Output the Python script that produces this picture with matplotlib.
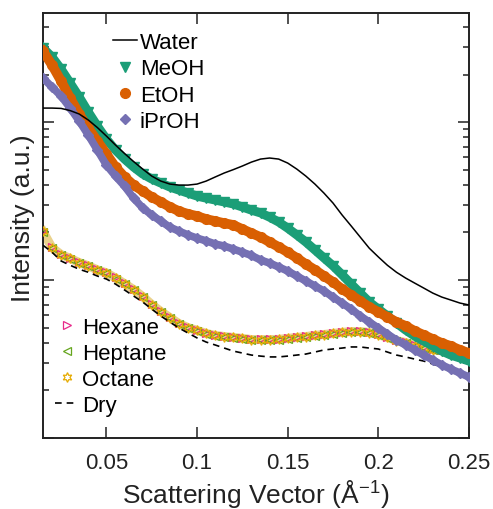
import matplotlib
matplotlib.use('Agg')
import matplotlib.pyplot as plt
from matplotlib.ticker import LogLocator, NullFormatter, NullLocator, FixedLocator

plt.rcParams['font.family'] = ['Liberation Sans', 'DejaVu Sans']
plt.rcParams['mathtext.default'] = 'regular'

# scattering vector (1/A)
q = [0.015, 0.020, 0.025, 0.030, 0.035, 0.040, 0.045, 0.050, 0.055, 0.060,
     0.065, 0.070, 0.075, 0.080, 0.085, 0.090, 0.095, 0.100, 0.105, 0.110,
     0.115, 0.120, 0.125, 0.130, 0.135, 0.140, 0.145, 0.150, 0.155, 0.160,
     0.165, 0.170, 0.175, 0.180, 0.185, 0.190, 0.195, 0.200, 0.205, 0.210,
     0.215, 0.220, 0.225, 0.230, 0.235, 0.240, 0.245, 0.250]

water = [122.6, 122.6, 122.0, 118.2, 112.4, 103.0, 92.3, 81.5, 71.5, 63.2,
         56.2, 50.4, 45.5, 42.3, 40.5, 39.9, 39.9, 40.5, 42.3, 44.9,
         47.6, 50.0, 52.7, 55.8, 58.3, 59.2, 58.3, 55.0, 50.4, 45.5,
         40.5, 35.5, 30.7, 25.8, 22.0, 18.7, 15.9, 14.0, 12.4, 11.2,
         10.3, 9.57, 8.90, 8.27, 7.80, 7.47, 7.15, 6.95]

meoh = [294, 258, 216, 176.5, 143.9, 115.7, 94.3, 78.0, 66.5, 58.3,
        51.9, 46.9, 43.6, 41.1, 38.8, 37.1, 35.5, 34.0, 33.0, 32.1,
        31.2, 30.3, 29.0, 27.7, 26.6, 25.0, 23.3, 21.3, 19.3, 17.4,
        15.5, 13.8, 12.3, 10.8, 9.43, 8.27, 7.26, 6.55, 5.92, 5.34,
        4.83, 4.42, 4.11, 3.82, 3.55, 3.35, 3.21, 3.07]

etoh = [281, 229.5, 181.7, 141.9, 112.4, 91.6, 75.8, 62.7, 51.9, 44.9,
        39.9, 36.6, 33.5, 31.2, 29.0, 27.3, 26.2, 25.4, 24.3, 23.6,
        22.9, 22.3, 21.0, 19.8, 18.7, 17.4, 16.2, 15.0, 13.8, 12.6,
        11.6, 10.6, 9.71, 8.77, 8.04, 7.36, 6.75, 6.27, 5.83, 5.42,
        5.12, 4.76, 4.49, 4.23, 3.99, 3.82, 3.61, 3.45]

iproh = [189.8, 166.5, 146.1, 122.6, 101.5, 82.7, 66.5, 53.4, 45.5, 39.3,
         33.0, 28.6, 25.8, 23.6, 21.6, 20.4, 19.3, 18.4, 17.7, 16.9,
         16.4, 15.7, 15.0, 14.3, 13.4, 12.8, 12.1, 11.4, 10.6, 9.86,
         9.16, 8.52, 7.80, 7.15, 6.55, 5.92, 5.42, 4.97, 4.55, 4.17,
         3.88, 3.61, 3.35, 3.12, 2.90, 2.73, 2.58, 2.43]

hexane = [20.4, 16.2, 14.6, 13.8, 13.0, 12.4, 11.7, 11.2, 10.4, 9.57,
          8.77, 7.92, 7.05, 6.37, 5.83, 5.34, 5.04, 4.83, 4.62, 4.49,
          4.42, 4.36, 4.30, 4.23, 4.23, 4.23, 4.23, 4.30, 4.36, 4.42,
          4.49, 4.55, 4.62, 4.69, 4.76, 4.76, 4.69, 4.55, 4.36, 4.17,
          4.05, 3.88, 3.77, 3.66, 3.61, 3.55, 3.50, 3.45]

heptane = [20.1, 15.9, 14.4, 13.6, 12.8, 12.2, 11.5, 11.0, 10.2, 9.40,
           8.62, 7.80, 6.95, 6.28, 5.75, 5.27, 4.97, 4.76, 4.56, 4.43,
           4.36, 4.30, 4.24, 4.17, 4.17, 4.17, 4.18, 4.24, 4.30, 4.36,
           4.43, 4.49, 4.56, 4.63, 4.69, 4.69, 4.62, 4.48, 4.30, 4.12,
           3.99, 3.83, 3.72, 3.61, 3.56, 3.50, 3.45, 3.40]

octane = [20.3, 16.0, 14.5, 13.7, 12.9, 12.3, 11.6, 11.1, 10.3, 9.48,
          8.70, 7.86, 7.00, 6.32, 5.79, 5.30, 5.00, 4.80, 4.59, 4.46,
          4.39, 4.33, 4.27, 4.20, 4.20, 4.20, 4.21, 4.27, 4.33, 4.39,
          4.46, 4.52, 4.59, 4.66, 4.72, 4.72, 4.65, 4.51, 4.33, 4.14,
          4.02, 3.85, 3.74, 3.63, 3.58, 3.52, 3.47, 3.42]

dry = [16.6, 15.0, 13.2, 12.4, 11.7, 11.2, 10.6, 10.15, 9.43, 8.65,
       7.92, 7.26, 6.55, 5.92, 5.42, 4.97, 4.62, 4.30, 4.05, 3.88,
       3.71, 3.55, 3.45, 3.35, 3.30, 3.26, 3.26, 3.30, 3.35, 3.40,
       3.50, 3.61, 3.66, 3.71, 3.77, 3.77, 3.71, 3.66, 3.50, 3.35,
       3.26, 3.16, 3.07, 2.94, 2.81, 2.69, 2.62, 2.54]

xticks = [0.05, 0.1, 0.15, 0.2, 0.25]
xticklabels = ['0.05', '0.1', '0.15', '0.2', '0.25']

green = '#1b9e77'
orange = '#d95f02'
purple = '#7570b3'
pink = '#e7298a'
olive = '#66a61e'
gold = '#e6ab02'
ink = '#222222'

fig = plt.figure(figsize=(4.93, 5.10), dpi=100)
ax = fig.add_axes([0.0872, 0.1392, 0.8641, 0.8333])
ax.set_yscale('log')

# alkane ribbons (drawn first, underneath)
ax.plot(q, octane, '-', color='#dcb440', lw=6.5, alpha=0.6, zorder=2)
h_hex, = ax.plot(q, hexane, ls='none', marker='>', ms=6, mfc='none',
                 mec=pink, mew=0.9, label='Hexane', zorder=3)
h_hep, = ax.plot(q, heptane, ls='none', marker='<', ms=6, mfc='none',
                 mec=olive, mew=0.9, label='Heptane', zorder=3)
h_oct, = ax.plot(q, octane, ls='none', marker=(6, 1, 0), ms=7, mfc='none',
                 mec=gold, mew=0.9, label='Octane', zorder=3)
h_dry, = ax.plot(q, dry, '--', color='black', lw=1.2, dashes=(4, 3),
                 label='Dry', zorder=4)

# alcohols: thick band plus markers
ax.plot(q, meoh, '-', color=green, lw=6.5, zorder=5)
h_me, = ax.plot(q, meoh, ls='none', marker='v', ms=7, color=green,
                mec=green, label='MeOH', zorder=5)
ax.plot(q, etoh, '-', color=orange, lw=7, zorder=6)
h_et, = ax.plot(q, etoh, ls='none', marker='o', ms=7, color=orange,
                mec=orange, label='EtOH', zorder=6)
ax.plot(q, iproh, '-', color=purple, lw=5.5, zorder=7)
h_ip, = ax.plot(q, iproh, ls='none', marker='D', ms=5.5, color=purple,
                mec=purple, label='iPrOH', zorder=7)

h_wat, = ax.plot(q, water, '-', color='black', lw=1.1, label='Water', zorder=8)

ax.set_xlim(0.015, 0.25)
ax.set_ylim(1, 490)

ax.xaxis.set_major_locator(FixedLocator(xticks))
ax.set_xticklabels(xticklabels)
ax.xaxis.set_minor_locator(NullLocator())
ax.yaxis.set_major_locator(LogLocator(base=10))
ax.yaxis.set_minor_locator(LogLocator(base=10, subs=range(2, 10)))
ax.yaxis.set_major_formatter(NullFormatter())
ax.yaxis.set_minor_formatter(NullFormatter())

ax.tick_params(which='both', direction='in', top=True, right=True,
               width=1.1, colors=ink, labelsize=16, labelcolor=ink)
ax.tick_params(which='major', length=8, pad=10)
ax.tick_params(which='minor', length=4.5)
for s in ax.spines.values():
    s.set_linewidth(1.4)
    s.set_color(ink)

ax.set_xlabel('Scattering Vector (Å$^{-1}$)', fontsize=19, color=ink, labelpad=3)
ax.set_ylabel('Intensity (a.u.)', fontsize=19, color=ink)
ax.yaxis.set_label_coords(-0.018, 0.52)

leg1 = ax.legend(handles=[h_wat, h_me, h_et, h_ip], loc='upper left',
                 bbox_to_anchor=(113 / 493, 1 - 33 / 510),
                 bbox_transform=fig.transFigure, frameon=False, fontsize=16,
                 handlelength=1.1, handletextpad=0.1, labelspacing=0.24,
                 borderpad=0, borderaxespad=0)
ax.add_artist(leg1)
ax.legend(handles=[h_hex, h_hep, h_oct, h_dry], loc='upper left',
          bbox_to_anchor=(55 / 493, 1 - 318 / 510),
          bbox_transform=fig.transFigure, frameon=False, fontsize=16,
          handlelength=1.05, handletextpad=0.15, labelspacing=0.22,
          borderpad=0, borderaxespad=0)

fig.savefig('out.png', dpi=100)
